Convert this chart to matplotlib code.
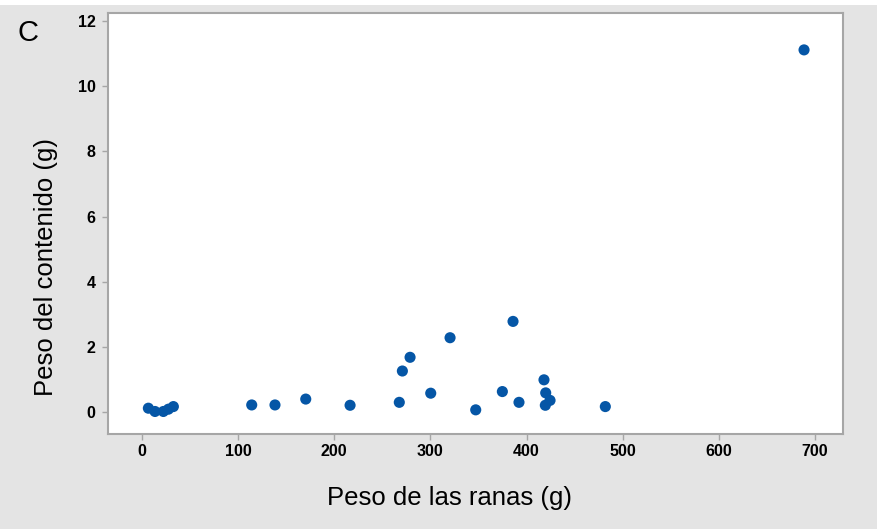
import matplotlib
matplotlib.use('Agg')
import matplotlib.pyplot as plt
from matplotlib.patches import Rectangle

plt.rcParams['font.family'] = ['Liberation Sans', 'DejaVu Sans']

# datos
peso_ranas = [6.6, 13.5, 22.2, 27.4, 32.6, 114.1, 138.3, 170.3, 216.4, 267.6,
              270.8, 278.8, 300.3, 320.4, 347.1, 374.8, 385.9, 392.1, 418.1,
              419.9, 424.4, 419.5, 481.9, 688.6]
peso_contenido = [0.13, 0.03, 0.03, 0.10, 0.18, 0.23, 0.23, 0.41, 0.22, 0.31,
                  1.27, 1.69, 0.59, 2.29, 0.08, 0.64, 2.79, 0.31, 1.00,
                  0.60, 0.37, 0.22, 0.18, 11.11]
xticks = [0, 100, 200, 300, 400, 500, 600, 700]
yticks = [0, 2, 4, 6, 8, 10, 12]

fig = plt.figure(figsize=(8.78, 5.29), dpi=100)
fig.patch.set_facecolor('#e4e4e4')
fig.patches.append(Rectangle((0, 0.99), 1, 0.01, transform=fig.transFigure,
                             facecolor='white', edgecolor='none', zorder=-1))

ax = fig.add_axes([0.123, 0.1796, 0.837, 0.7958])
ax.set_facecolor('white')
ax.scatter(peso_ranas, peso_contenido, s=64, color='#0556a6', edgecolors='none', zorder=3)

ax.set_xlim(-35.4, 729)
ax.set_ylim(-0.66, 12.24)
ax.set_xticks(xticks)
ax.set_yticks(yticks)

for s in ax.spines.values():
    s.set_color('#a6a6a6')
    s.set_linewidth(1.5)

ax.tick_params(axis='both', colors='#a6a6a6', length=4, width=1, labelcolor='black',
               labelsize=11.5)
ax.tick_params(axis='x', pad=3)
ax.tick_params(axis='y', pad=5)
for lab in ax.get_xticklabels() + ax.get_yticklabels():
    lab.set_fontweight('bold')

fig.text(0.5115, 0.058, 'Peso de las ranas (g)', ha='center', va='center', fontsize=18.5)
fig.text(0.052, 0.496, 'Peso del contenido (g)', ha='center', va='center',
         rotation=90, fontsize=18.5)
fig.text(0.02, 0.937, 'C', ha='left', va='center', fontsize=21)

fig.savefig('out.png', dpi=100, facecolor=fig.get_facecolor())
